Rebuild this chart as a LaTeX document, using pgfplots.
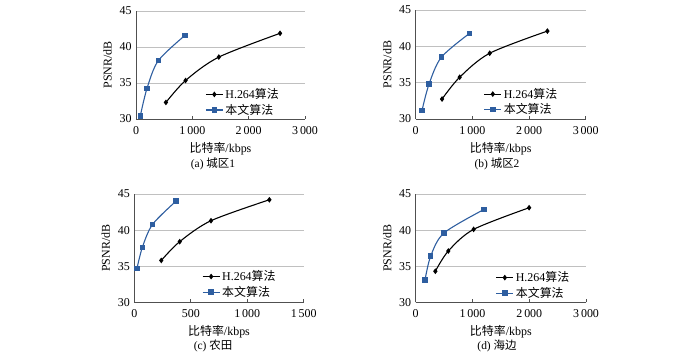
\documentclass[border=0pt]{standalone}
\usepackage{pgfplots}
\pgfplotsset{compat=1.18}
\usepackage{fontspec}
\setmainfont{Liberation Serif}
\newfontfamily\cjk{Noto Sans CJK SC}
\definecolor{myblue}{RGB}{46,94,160}
\definecolor{gridgray}{RGB}{192,192,192}
\definecolor{axgray}{RGB}{80,80,80}
\pgfplotsset{
  base/.style={
    scale only axis, xmin=0, ymin=30, ymax=45, ytick={30,35,40,45},
    ymajorgrids, grid style={gridgray, line width=0.9pt},
    axis x line*=bottom, axis y line*=left,
    axis line style={axgray, line width=0.8pt, -},
    ytick style={draw=none}, xtick style={axgray, line width=0.6pt},
    xtick align=inside, major tick length=3bp,
    font=\fontsize{12}{13}\selectfont,
    /pgf/number format/assume math mode=true,
    xticklabel style={yshift=-4bp},
    yticklabel style={xshift=-1bp},
    ylabel={PSNR/dB}, xlabel={{\cjk 比特率}/kbps},
    xlabel style={yshift=-1bp},
    ylabel style={yshift=1bp},
    legend style={draw=none, fill=none, anchor=north west, inner sep=0pt, outer sep=0pt,
      font=\fontsize{12}{13}\selectfont, cells={anchor=west}},
    legend cell align=left,
    clip=false,
  },
  h264/.style={black, line width=1.1pt, smooth, mark=diamond*, mark size=2bp, mark options={solid}},
  ours/.style={myblue, line width=1.1pt, smooth, mark=square*, mark size=2.2bp, mark options={solid}},
}
\begin{document}
\begin{tikzpicture}[x=1bp,y=1bp]
\path[use as bounding box] (0,0) rectangle (700,354);
% (a)
\begin{axis}[base, at={(136bp,235bp)}, anchor=south west, width=169bp, height=108bp,
  xmax=3000, xtick={0,1000,2000,3000}, xticklabels={0,1\,000,2\,000,3\,000},
  legend style={at={(rel axis cs:0.41,0.30)}}]
\addplot[h264] coordinates {(531,32.3) (880,35.35) (1470,38.6) (2557,41.9)};
\addlegendentry{H.264{\cjk 算法}}
\addplot[ours] coordinates {(77,30.45) (195,34.25) (396,38.1) (868,41.6)};
\addlegendentry{{\cjk 本文算法}}
\end{axis}
\node at (213,190) {\fontsize{11.5}{12}\selectfont (a) {\cjk 城区}1};
% (b)
\begin{axis}[base, at={(415.7bp,235bp)}, anchor=south west, width=170bp, height=109bp,
  xmax=3000, xtick={0,1000,2000,3000}, xticklabels={0,1\,000,2\,000,3\,000},
  legend style={at={(rel axis cs:0.40,0.30)}}]
\addplot[h264] coordinates {(465,32.75) (776,35.75) (1306,39.05) (2324,42.1)};
\addlegendentry{H.264{\cjk 算法}}
\addplot[ours] coordinates {(112,31.2) (235,34.8) (453,38.5) (953,41.8)};
\addlegendentry{{\cjk 本文算法}}
\end{axis}
\node at (497,190) {\fontsize{11.5}{12}\selectfont (b) {\cjk 城区}2};
% (c)
\begin{axis}[base, at={(134.3bp,51.7bp)}, anchor=south west, width=169.4bp, height=108.3bp,
  xmax=1500, xtick={0,500,1000,1500}, xticklabels={0,500,1\,000,1\,500},
  legend style={at={(rel axis cs:0.40,0.31)}}]
\addplot[h264] coordinates {(239,35.8) (402,38.4) (679,41.3) (1196,44.2)};
\addlegendentry{H.264{\cjk 算法}}
\addplot[ours] coordinates {(24,34.7) (71,37.6) (162,40.8) (369,44.0)};
\addlegendentry{{\cjk 本文算法}}
\end{axis}
\node at (213,8) {\fontsize{11.5}{12}\selectfont (c) {\cjk 农田}};
% (d)
\begin{axis}[base, at={(415.7bp,51.7bp)}, anchor=south west, width=170.3bp, height=108.3bp,
  xmax=3000, xtick={0,1000,2000,3000}, xticklabels={0,1\,000,2\,000,3\,000},
  legend style={at={(rel axis cs:0.47,0.30)}}]
\addplot[h264] coordinates {(346,34.3) (574,37.1) (1020,40.1) (1998,43.1)};
\addlegendentry{H.264{\cjk 算法}}
\addplot[ours] coordinates {(164,33.1) (264,36.4) (498,39.6) (1201,42.85)};
\addlegendentry{{\cjk 本文算法}}
\end{axis}
\node at (497,8) {\fontsize{11.5}{12}\selectfont (d) {\cjk 海边}};
\end{tikzpicture}
\end{document}
